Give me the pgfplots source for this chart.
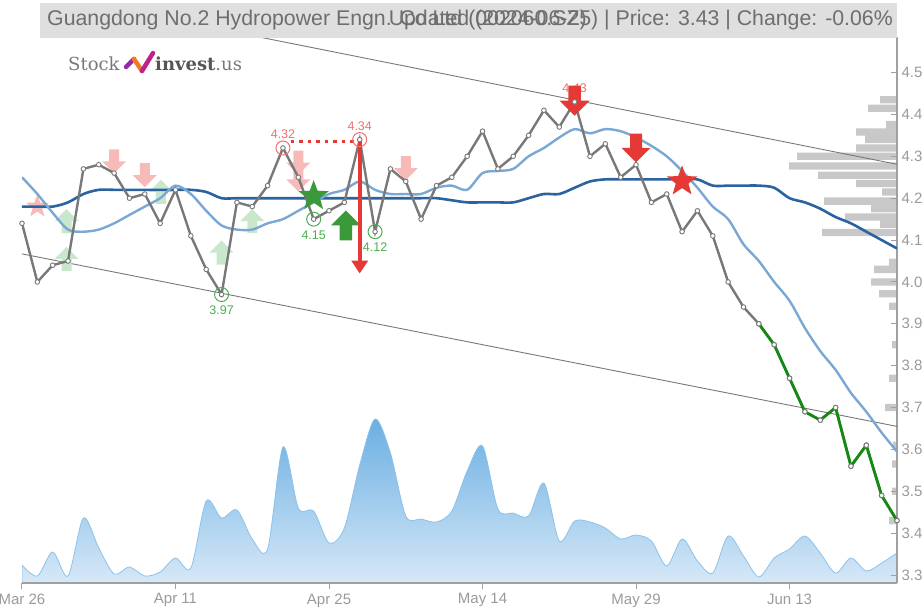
\documentclass[border=0pt]{standalone}
\usepackage{pgfplots}
\pgfplotsset{compat=1.18}
\usepackage{pgfplotstable}
\usepackage{fontspec}
\setmainfont{Liberation Sans}
\newfontfamily\logofont{DejaVu Serif}
\usetikzlibrary{shapes.geometric,arrows.meta}

\definecolor{pricegray}{HTML}{787878}
\definecolor{maone}{HTML}{7BA7D4}
\definecolor{matwo}{HTML}{2B62A0}
\definecolor{axgray}{HTML}{A0A0A0}
\definecolor{lblgray}{HTML}{9A9A9A}
\definecolor{sred}{HTML}{E53935}
\definecolor{lred}{HTML}{F07070}
\definecolor{sgreen}{HTML}{3A9A3A}
\definecolor{lgreen}{HTML}{4CAF50}
\definecolor{dgreen}{HTML}{138A13}
\definecolor{fpink}{HTML}{F6BAB8}
\definecolor{fgreen}{HTML}{C9E7CA}
\definecolor{voltop}{HTML}{6AAEE2}
\definecolor{volbot}{HTML}{D6E8F7}
\definecolor{volline}{HTML}{8CC2EA}
\definecolor{profgray}{HTML}{C8C8C8}
\definecolor{titlebg}{HTML}{DFDFDF}
\definecolor{titletxt}{HTML}{6E6E6E}

\pgfplotstableread{
i p
0 4.14
1 4.00
2 4.04
3 4.05
4 4.27
5 4.28
6 4.26
7 4.20
8 4.21
9 4.14
10 4.22
11 4.11
12 4.03
13 3.97
14 4.19
15 4.18
16 4.23
17 4.32
18 4.25
19 4.15
20 4.17
21 4.19
22 4.34
23 4.12
24 4.27
25 4.24
26 4.15
27 4.23
28 4.25
29 4.30
30 4.36
31 4.27
32 4.30
33 4.35
34 4.41
35 4.37
36 4.43
37 4.30
38 4.33
39 4.25
40 4.28
41 4.19
42 4.21
43 4.12
44 4.17
45 4.11
46 4.00
47 3.94
48 3.90
49 3.85
50 3.77
51 3.69
52 3.67
53 3.70
54 3.56
55 3.61
56 3.49
57 3.43
}\pricetable

\pgfplotstableread{
i p
48 3.90
49 3.85
50 3.77
51 3.69
52 3.67
53 3.70
54 3.56
55 3.61
56 3.49
57 3.43
}\greentable

\pgfplotstableread{
i m
0 4.25
1 4.21
2 4.165
3 4.125
4 4.12
5 4.125
6 4.14
7 4.16
8 4.18
9 4.20
10 4.23
11 4.21
12 4.17
13 4.135
14 4.125
15 4.125
16 4.14
17 4.15
18 4.17
19 4.19
20 4.21
21 4.22
22 4.24
23 4.22
24 4.21
25 4.21
26 4.21
27 4.225
28 4.23
29 4.22
30 4.26
31 4.265
32 4.27
33 4.30
34 4.32
35 4.345
36 4.365
37 4.355
38 4.365
39 4.36
40 4.345
41 4.325
42 4.30
43 4.265
44 4.225
45 4.18
46 4.15
47 4.09
48 4.05
49 4.00
50 3.955
51 3.89
52 3.835
53 3.79
54 3.735
55 3.69
56 3.64
57 3.595
}\maonetable

\pgfplotstableread{
i m
0 4.18
1 4.18
2 4.18
3 4.19
4 4.21
5 4.22
6 4.22
7 4.22
8 4.22
9 4.22
10 4.22
11 4.22
12 4.215
13 4.20
14 4.20
15 4.20
16 4.20
17 4.20
18 4.20
19 4.20
20 4.20
21 4.20
22 4.20
23 4.20
24 4.20
25 4.20
26 4.20
27 4.20
28 4.195
29 4.19
30 4.19
31 4.19
32 4.19
33 4.20
34 4.21
35 4.21
36 4.225
37 4.24
38 4.245
39 4.245
40 4.245
41 4.245
42 4.245
43 4.245
44 4.245
45 4.23
46 4.23
47 4.23
48 4.23
49 4.225
50 4.20
51 4.19
52 4.175
53 4.155
54 4.14
55 4.12
56 4.10
57 4.08
}\matwotable

\pgfplotstableread{
i v
0 18
1 7
2 31
3 7
4 65
5 35
6 9
7 16
8 7
9 11
10 25
11 15
12 82
13 65
14 73
15 44
16 34
17 136
18 75
19 72
20 40
21 55
22 118
23 164
24 130
25 67
26 64
27 61
28 72
29 112
30 137
31 74
32 70
33 67
34 100
35 42
36 62
37 61
38 55
39 44
40 48
41 42
42 17
43 44
44 22
45 10
46 47
47 27
48 6
49 25
50 34
51 47
52 30
53 10
54 25
55 12
56 20
57 30
}\voltable

\pgfplotstableread{
w p
17 4.435
29 4.415
11 4.376
41 4.358
32 4.340
41 4.320
100 4.300
108 4.277
79 4.255
41 4.235
15 4.215
73 4.193
26 4.175
52 4.155
17 4.138
75 4.118
8 4.047
23 4.030
26 4.000
18 3.972
8 3.942
5 3.850
8 3.770
12 3.700
4 3.610
5 3.565
5 3.500
8 3.430
}\proftable

\pgfplotstableread{
i c
0 4.067
57 3.655
}\lowchannel
\pgfplotstableread{
i c
0 4.698
57 4.281
}\upchannel

\newcommand\arrdown[3]{% position, color, scale
  \fill[#2, shift={(#1)}, scale=#3] (-5pt,12pt) -- (5pt,12pt) -- (5pt,0pt) -- (12pt,0pt) -- (0pt,-12pt) -- (-12pt,0pt) -- (-5pt,0pt) -- cycle;}
\newcommand\arrup[3]{%
  \fill[#2, shift={(#1)}, scale=#3] (-5pt,-12pt) -- (5pt,-12pt) -- (5pt,0pt) -- (12pt,0pt) -- (0pt,12pt) -- (-12pt,0pt) -- (-5pt,0pt) -- cycle;}

\begin{document}
\begin{tikzpicture}
% volume profile
\begin{axis}[
  at={(0pt,0pt)}, anchor=south west, scale only axis,
  width=875pt, height=546pt,
  hide axis, x dir=reverse,
  xmin=0, xmax=875, ymin=3.281, ymax=4.585,
]
\addplot[xbar, bar width=0.0175, fill=profgray, draw=none] table[x=w, y=p] {\proftable};
\end{axis}
% volume
\begin{axis}[
  at={(0pt,0pt)}, anchor=south west, scale only axis,
  width=875pt, height=546pt,
  hide axis,
  xmin=0, xmax=57, ymin=0, ymax=546,
]
\addplot[smooth, draw=volline, line width=0.8pt, top color=voltop, bottom color=volbot] table[x=i, y=v] {\voltable} \closedcycle;
\end{axis}
% price
\begin{axis}[
  at={(0pt,0pt)}, anchor=south west, scale only axis,
  width=875pt, height=546pt,
  xmin=0, xmax=57, ymin=3.281, ymax=4.585,
  axis x line*=bottom, axis y line*=right,
  axis line style={draw=axgray, line width=1.2pt},
  tick align=outside, major tick length=6pt,
  tick style={draw=axgray, line width=1pt},
  ytick style={xshift=-6pt},
  xtick={0,10,20,30,40,50},
  xticklabels={Mar 26,Apr 11,Apr 25,May 14,May 29,Jun 13},
  ytick={3.3,3.4,3.5,3.6,3.7,3.8,3.9,4.0,4.1,4.2,4.3,4.4,4.5},
  /pgf/number format/fixed, /pgf/number format/fixed zerofill,
  /pgf/number format/precision=1, /pgf/number format/assume math mode=true,
  ticklabel style={font=\fontsize{15}{15}\selectfont, text=lblgray},
  yticklabel style={xshift=-5pt},
  xticklabel style={yshift=-1pt},
  minor tick num=0,
]
% channel lines
\addplot[draw=pricegray, line width=0.9pt] table[x=i, y=c] {\lowchannel};
\addplot[draw=pricegray, line width=0.9pt] table[x=i, y=c] {\upchannel};
% faded signals
\arrdown{axis cs:6,4.288}{fpink}{1}
\arrdown{axis cs:8,4.255}{fpink}{1}
\arrdown{axis cs:18,4.285}{fpink}{1}
\arrdown{axis cs:18,4.245}{fpink}{1}
\arrdown{axis cs:25,4.272}{fpink}{1}
\node[star, star points=5, star point ratio=2.4, fill=fpink, minimum size=24pt, inner sep=0pt] at (axis cs:1,4.18) {};
\arrup{axis cs:2.9,4.145}{fgreen}{1}
\arrup{axis cs:2.9,4.055}{fgreen}{1}
\arrup{axis cs:9.05,4.215}{fgreen}{1}
\arrup{axis cs:13,4.07}{fgreen}{1}
\arrup{axis cs:15,4.145}{fgreen}{1}
% moving averages
\addplot[draw=matwo, line width=2.6pt, smooth] table[x=i, y=m] {\matwotable};
\addplot[draw=maone, line width=2.4pt, smooth] table[x=i, y=m] {\maonetable};
% price
\addplot[draw=pricegray, line width=2.4pt, mark=*, mark size=2.3pt,
  mark options={fill=white, draw=pricegray, line width=0.9pt}] table[x=i, y=p] {\pricetable};
\addplot[draw=dgreen, line width=2.8pt, mark=*, mark size=2.3pt,
  mark options={fill=white, draw=pricegray, line width=0.9pt}] table[x=i, y=p] {\greentable};
% strong signals
\node[star, star points=5, star point ratio=2.4, fill=sgreen, minimum size=32pt, inner sep=0pt] at (axis cs:19,4.205) {};
\arrup{axis cs:21.1,4.135}{sgreen}{1.25}
\draw[sred, line width=2.8pt, dash pattern=on 3.5pt off 5pt] (axis cs:17.5,4.335) -- (axis cs:21.6,4.335);
\draw[sred, line width=4pt, -{Triangle[width=16pt,length=13pt]}] (axis cs:22,4.34) -- (axis cs:22,4.02);
% high/low circles and labels
\draw[lred, line width=1pt] (axis cs:17,4.32) circle (7pt);
\draw[lred, line width=1pt] (axis cs:22,4.34) circle (7pt);
\draw[lgreen, line width=1pt] (axis cs:13,3.97) circle (7pt);
\draw[lgreen, line width=1pt] (axis cs:19,4.15) circle (7pt);
\draw[lgreen, line width=1pt] (axis cs:23,4.12) circle (7pt);
\node[text=lred, font=\fontsize{12.5}{12.5}\selectfont] at (axis cs:17,4.32) [yshift=14pt] {4.32};
\node[text=lred, font=\fontsize{12.5}{12.5}\selectfont] at (axis cs:22,4.34) [yshift=13pt] {4.34};
\node[text=lred, font=\fontsize{12.5}{12.5}\selectfont] at (axis cs:36,4.43) [yshift=14pt] {4.43};
\node[text=lgreen, font=\fontsize{12.5}{12.5}\selectfont] at (axis cs:13,3.97) [yshift=-16pt] {3.97};
\node[text=lgreen, font=\fontsize{12.5}{12.5}\selectfont] at (axis cs:19,4.15) [yshift=-16pt] {4.15};
\node[text=lgreen, font=\fontsize{12.5}{12.5}\selectfont] at (axis cs:23,4.12) [yshift=-15pt] {4.12};
% red sell signals
\arrdown{axis cs:36,4.433}{sred}{1.25}
\arrdown{axis cs:40,4.32}{sred}{1.2}
\node[star, star points=5, star point ratio=2.4, fill=sred, minimum size=32pt, inner sep=0pt] at (axis cs:43,4.24) {};
\end{axis}
% title bar
\fill[titlebg] (18pt,545pt) rectangle (875pt,580pt);
\node[anchor=west, text=titletxt, font=\fontsize{21.3}{23}\selectfont, inner sep=0pt] at (25pt,563pt) {Guangdong No.2 Hydropower Engn. Co Ltd (002060.SZ)};
\node[anchor=east, text=titletxt, font=\fontsize{21.3}{23}\selectfont, inner sep=0pt] at (871pt,563pt) {Updated (2024-06-25) | Price: 3.43 | Change: -0.06\%};
% logo
\node[anchor=base west, inner sep=0pt, text=pricegray, font=\logofont\fontsize{18}{18}\selectfont] at (46pt,512pt) {Stock};
\draw[line width=4.5pt, color={rgb,255:red,150;green,40;blue,170}, line cap=round] (104pt,516pt) -- (112pt,524pt);
\draw[line width=4.5pt, color={rgb,255:red,245;green,120;blue,40}, line cap=round] (112pt,524pt) -- (120pt,512pt);
\draw[line width=4.5pt, color={rgb,255:red,190;green,35;blue,140}, line cap=round] (120pt,512pt) -- (131pt,530pt);
\node[anchor=base west, inner sep=0pt, text={rgb,255:red,85;green,85;blue,85}, font=\logofont\bfseries\fontsize{18}{18}\selectfont] at (133pt,512pt) {invest\mdseries\color{pricegray}.us};
\pgfresetboundingbox
\useasboundingbox (-22pt,-27pt) rectangle (901pt,583pt);
\end{tikzpicture}
\end{document}
